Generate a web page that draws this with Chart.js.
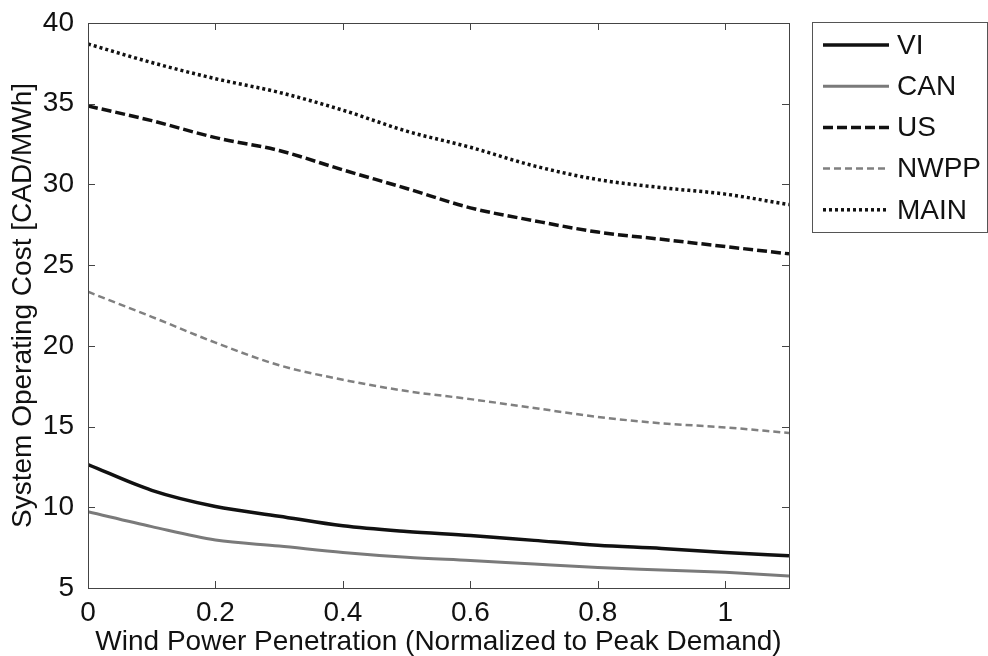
<!DOCTYPE html>
<html>
<head>
<meta charset="utf-8">
<script src="https://cdn.jsdelivr.net/npm/chart.js@4.4.1/dist/chart.umd.min.js"></script>
<style>
  html, body { margin: 0; padding: 0; background: #fff; }
  #wrap { width: 988px; height: 656px; }
</style>
</head>
<body>
<div id="wrap"><canvas id="costChart" width="988" height="656"></canvas></div>
<script>
// wind penetration (fraction of peak demand) and operating cost per region, CAD/MWh
const penetration = [0, 0.1, 0.2, 0.3, 0.4, 0.5, 0.6, 0.7, 0.8, 0.9, 1.0, 1.1];
const costVI   = [12.65, 11.05, 10.05, 9.45, 8.85, 8.5, 8.25, 7.95, 7.65, 7.45, 7.2, 7.0];
const costCAN  = [9.72, 8.8, 7.97, 7.6, 7.2, 6.9, 6.7, 6.48, 6.27, 6.12, 5.97, 5.75];
const costUS   = [34.86, 33.95, 32.9, 32.1, 30.9, 29.75, 28.55, 27.75, 27.05, 26.6, 26.15, 25.7];
const costNWPP = [23.35, 21.8, 20.2, 18.8, 17.9, 17.2, 16.7, 16.15, 15.6, 15.2, 14.95, 14.6];
const costMAIN = [38.7, 37.55, 36.55, 35.7, 34.6, 33.3, 32.3, 31.15, 30.3, 29.8, 29.4, 28.75];
const regions = ['VI', 'CAN', 'US', 'NWPP', 'MAIN'];

const FONT = '"Liberation Sans", Arial, Helvetica, sans-serif';

function toPoints(values) {
    return values.map((v, i) => ({ x: penetration[i], y: v }));
}

// matlab-style frame: full box with inward tick marks on all four sides
const boxAxes = {
    id: 'boxAxes',
    afterDraw(chart) {
        const { ctx, chartArea: a, scales } = chart;
        const len = 7;
        ctx.save();
        ctx.strokeStyle = '#444';
        ctx.lineWidth = 1;
        ctx.strokeRect(Math.round(a.left) + 0.5, Math.round(a.top) + 0.5,
            Math.round(a.right - a.left), Math.round(a.bottom - a.top));
        ctx.beginPath();
        scales.x.ticks.forEach(t => {
            const px = Math.round(scales.x.getPixelForValue(t.value)) + 0.5;
            ctx.moveTo(px, a.bottom); ctx.lineTo(px, a.bottom - len);
            ctx.moveTo(px, a.top); ctx.lineTo(px, a.top + len);
        });
        scales.y.ticks.forEach(t => {
            const py = Math.round(scales.y.getPixelForValue(t.value)) + 0.5;
            ctx.moveTo(a.left, py); ctx.lineTo(a.left + len, py);
            ctx.moveTo(a.right, py); ctx.lineTo(a.right - len, py);
        });
        ctx.stroke();
        ctx.restore();
    }
};

// boxed legend to the right of the axes
const boxLegend = {
    id: 'boxLegend',
    afterDraw(chart) {
        const ctx = chart.ctx;
        const left = 812, top = 22, right = 987, bottom = 232;
        ctx.save();
        ctx.strokeStyle = '#555';
        ctx.lineWidth = 1;
        ctx.strokeRect(left + 0.5, top + 0.5, right - left, bottom - top);
        ctx.font = '28px ' + FONT;
        ctx.textBaseline = 'middle';
        chart.data.datasets.forEach((ds, i) => {
            const y = top + 23 + i * 41.2;
            ctx.beginPath();
            ctx.setLineDash(ds.borderDash || []);
            ctx.strokeStyle = ds.borderColor;
            ctx.lineWidth = ds.borderWidth;
            ctx.moveTo(left + 11, y);
            ctx.lineTo(left + 77, y);
            ctx.stroke();
            ctx.setLineDash([]);
            ctx.fillStyle = '#111';
            ctx.fillText(ds.label, left + 85, y + 1);
        });
        ctx.restore();
    }
};

const lineDefaults = {
    pointRadius: 0,
    fill: false,
    cubicInterpolationMode: 'monotone'
};

new Chart(document.getElementById('costChart').getContext('2d'), {
    type: 'line',
    data: {
        datasets: [
            { ...lineDefaults, label: regions[0], data: toPoints(costVI),
              borderColor: '#111', borderWidth: 3.5 },
            { ...lineDefaults, label: regions[1], data: toPoints(costCAN),
              borderColor: '#7a7a7a', borderWidth: 3 },
            { ...lineDefaults, label: regions[2], data: toPoints(costUS),
              borderColor: '#111', borderWidth: 3.5, borderDash: [10, 4] },
            { ...lineDefaults, label: regions[3], data: toPoints(costNWPP),
              borderColor: '#808080', borderWidth: 2.5, borderDash: [7, 4] },
            { ...lineDefaults, label: regions[4], data: toPoints(costMAIN),
              borderColor: '#111', borderWidth: 3.5, borderDash: [3, 3] }
        ]
    },
    options: {
        responsive: false,
        animation: false,
        layout: { padding: { top: 23, right: 199, left: 0, bottom: 0 } },
        plugins: {
            legend: { display: false },
            tooltip: { enabled: false }
        },
        scales: {
            x: {
                type: 'linear',
                min: 0,
                max: 1.1,
                grid: { display: false },
                border: { display: false },
                afterFit: axis => { axis.height = 68; },
                ticks: {
                    stepSize: 0.2,
                    includeBounds: false,
                    padding: 0,
                    maxRotation: 0,
                    color: '#111',
                    font: { family: FONT, size: 28 },
                    callback: v => String(+v.toFixed(2))
                },
                title: {
                    display: true,
                    text: 'Wind Power Penetration (Normalized to Peak Demand)',
                    color: '#111',
                    font: { family: FONT, size: 28 },
                    padding: { top: 0, bottom: -3 }
                }
            },
            y: {
                min: 5,
                max: 40,
                grid: { display: false },
                border: { display: false },
                afterFit: axis => { axis.width = 88; },
                ticks: {
                    stepSize: 5,
                    padding: 6,
                    color: '#111',
                    font: { family: FONT, size: 28 }
                },
                title: {
                    display: true,
                    text: 'System Operating Cost [CAD/MWh]',
                    color: '#111',
                    font: { family: FONT, size: 28 },
                    padding: { top: 6, bottom: 0 }
                }
            }
        }
    },
    plugins: [boxAxes, boxLegend]
});
</script>
</body>
</html>
